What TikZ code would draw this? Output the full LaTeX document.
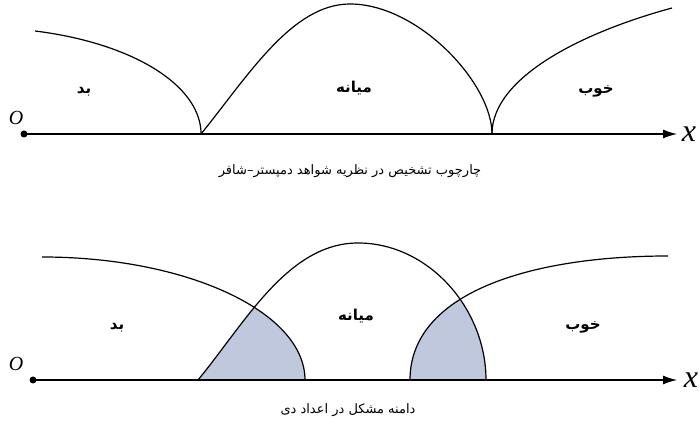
\documentclass[tikz,border=0pt]{standalone}
\usepackage{fontspec}
\usepackage{xcolor}
\usepackage{tikz}
\usetikzlibrary{arrows.meta}
\TeXXeTstate=1
\newfontfamily\farsifont[Script=Arabic]{DejaVu Sans}
\newfontfamily\axisfont{Liberation Serif}
\definecolor{figshade}{HTML}{C0C8DE}
\tikzset{
  curve/.style={line width=1.2pt},
  axisline/.style={line width=1.2pt,-{Latex[length=14pt,width=9pt]}},
  origin/.style={circle,fill=black,inner sep=0pt,minimum size=7pt},
  region/.style={font=\farsifont\bfseries\fontsize{15}{17}\selectfont,inner sep=1pt},
  caption/.style={font=\farsifont\fontsize{13}{15}\selectfont,inner sep=1pt},
  axislabel/.style={font=\axisfont\itshape\fontsize{32}{32}\selectfont,inner sep=0pt},
  originlabel/.style={font=\axisfont\itshape\fontsize{20}{20}\selectfont,inner sep=0pt},
}
\begin{document}
\begin{tikzpicture}[x=1pt,y=1pt]
  \useasboundingbox (0,0) rectangle (699,428);
  % top: frame of discernment
  \draw[curve] (35,397) arc[start angle=75.6,end angle=0,x radius=221,y radius=106.4];
  \draw[curve] (201,294) .. controls (248,352) and (292,424) .. (350,424)
                         .. controls (418,424) and (492,345) .. (492,294);
  \draw[curve] (492,294) .. controls (492,350) and (580,395) .. (672,420);
  \node[origin] (o1) at (24,294) {};
  \coordinate (x1) at (677,294);
  \draw[axisline] (o1.center) -- (x1);
  \node[axislabel] (xl1) at (689,294) {x};
  \node[originlabel] (ol1) at (16,310) {O};
  \node[region] (bad1) at (84,336) {\beginR بد\endR};
  \node[region] (mid1) at (354,340) {\beginR میانه\endR};
  \node[region] (good1) at (596,337) {\beginR خوب\endR};
  \node[caption] (cap1) at (350,257) {\beginR چارچوب تشخیص در نظریه شواهد دمپستر–شافر\endR};
  % bottom: problem domain in D numbers
  \begin{scope}
    \clip (42,171) arc[start angle=90,end angle=0,x radius=263,y radius=123] -- (42,48) -- cycle;
    \fill[figshade] (198,48) .. controls (245,105) and (288,185) .. (358,185)
                            .. controls (428,185) and (486,120) .. (486,48) -- cycle;
  \end{scope}
  \begin{scope}
    \clip (410,48) .. controls (410,135) and (530,172) .. (668,172) -- (668,48) -- cycle;
    \fill[figshade] (198,48) .. controls (245,105) and (288,185) .. (358,185)
                            .. controls (428,185) and (486,120) .. (486,48) -- cycle;
  \end{scope}
  \draw[curve] (42,171) arc[start angle=90,end angle=0,x radius=263,y radius=123];
  \draw[curve] (198,48) .. controls (245,105) and (288,185) .. (358,185)
                        .. controls (428,185) and (486,120) .. (486,48);
  \draw[curve] (410,48) .. controls (410,135) and (530,172) .. (668,172);
  \node[origin] (o2) at (33,48) {};
  \coordinate (x2) at (677,48);
  \draw[axisline] (o2.center) -- (x2);
  \node[axislabel] (xl2) at (691,48) {x};
  \node[originlabel] (ol2) at (16,64) {O};
  \node[region] (bad2) at (117,100) {\beginR بد\endR};
  \node[region] (mid2) at (356,112) {\beginR میانه\endR};
  \node[region] (good2) at (583,101) {\beginR خوب\endR};
  \node[caption] (cap2) at (348,18) {\beginR دامنه مشکل در اعداد دی\endR};
\end{tikzpicture}
\end{document}
